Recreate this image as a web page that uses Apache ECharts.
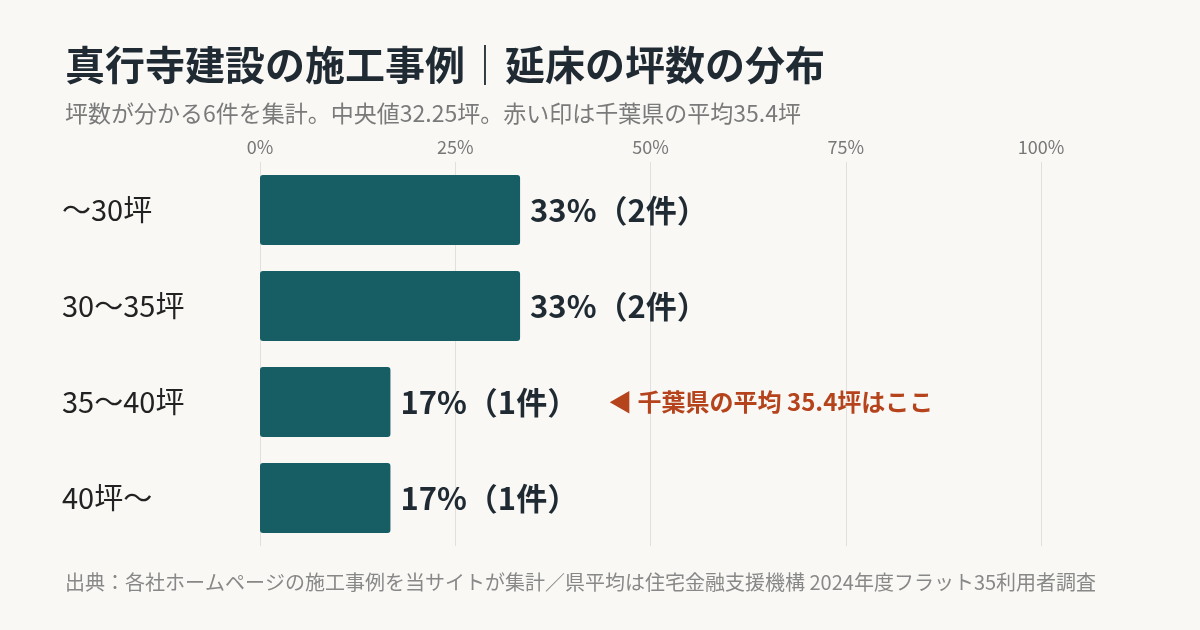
<!DOCTYPE html>
<html>
<head>
<meta charset="utf-8">
<script src="https://cdn.jsdelivr.net/npm/echarts@6/dist/echarts.min.js"></script>
<style>
  html, body { margin: 0; padding: 0; background: #f9f8f5; }
  #chart { width: 1200px; height: 630px; }
</style>
</head>
<body>
<div id="chart"></div>
<script>
var categories = ["～30坪", "30～35坪", "35～40坪", "40坪～"];
var shares = [33.3, 33.3, 16.7, 16.7];
var counts = [2, 2, 1, 1];
var pctLabels = ["33%", "33%", "17%", "17%"];
var noteIndex = 2;
var noteText = "◀ 千葉県の平均 35.4坪はここ";

var font = '"Noto Sans CJK JP", "Noto Sans", sans-serif';
var chart = echarts.init(document.getElementById("chart"));

chart.setOption({
  backgroundColor: "#f9f8f5",
  textStyle: { fontFamily: font },
  title: [{
    text: "真行寺建設の施工事例｜延床の坪数の分布",
    left: 60, top: 40,
    textStyle: { fontSize: 40, fontWeight: "bold", color: "#1f2a33", fontFamily: font }
  }, {
    text: "坪数が分かる6件を集計。中央値32.25坪。赤い印は千葉県の平均35.4坪",
    left: 60, top: 97,
    textStyle: { fontSize: 23, fontWeight: "normal", color: "#7a7a7a", fontFamily: font }
  }, {
    text: "出典：各社ホームページの施工事例を当サイトが集計／県平均は住宅金融支援機構 2024年度フラット35利用者調査",
    left: 60, top: 567,
    textStyle: { fontSize: 20, fontWeight: "normal", color: "#888", fontFamily: font }
  }],
  grid: { left: 260, right: 159, top: 162, bottom: 84 },
  xAxis: {
    type: "value", min: 0, max: 100, interval: 25, position: "top",
    axisLine: { show: false }, axisTick: { show: false },
    axisLabel: { formatter: function (v) { return v + "%"; }, color: "#777", fontSize: 18, margin: 6, fontFamily: font },
    splitLine: { lineStyle: { color: "#e2e0dc", width: 1 } }
  },
  yAxis: {
    type: "category", data: categories, inverse: true,
    axisLine: { show: false }, axisTick: { show: false },
    axisLabel: { align: "left", margin: 198, color: "#222", fontSize: 29, fontFamily: font }
  },
  series: [{
    type: "bar",
    data: shares,
    barWidth: "73%",
    itemStyle: { color: "#165e63", borderRadius: 3 },
    label: {
      show: true, position: "right", distance: 10,
      formatter: function (p) {
        var s = "{v|" + pctLabels[p.dataIndex] + "（" + counts[p.dataIndex] + "件）}";
        if (p.dataIndex === noteIndex) s += "{n|" + noteText + "}";
        return s;
      },
      rich: {
        v: { fontSize: 31, fontWeight: "bold", color: "#1f2a33", fontFamily: font },
        n: { fontSize: 24, fontWeight: "bold", color: "#b5431c", padding: [0, 0, 0, 30], fontFamily: font }
      }
    }
  }]
});
</script>
</body>
</html>
